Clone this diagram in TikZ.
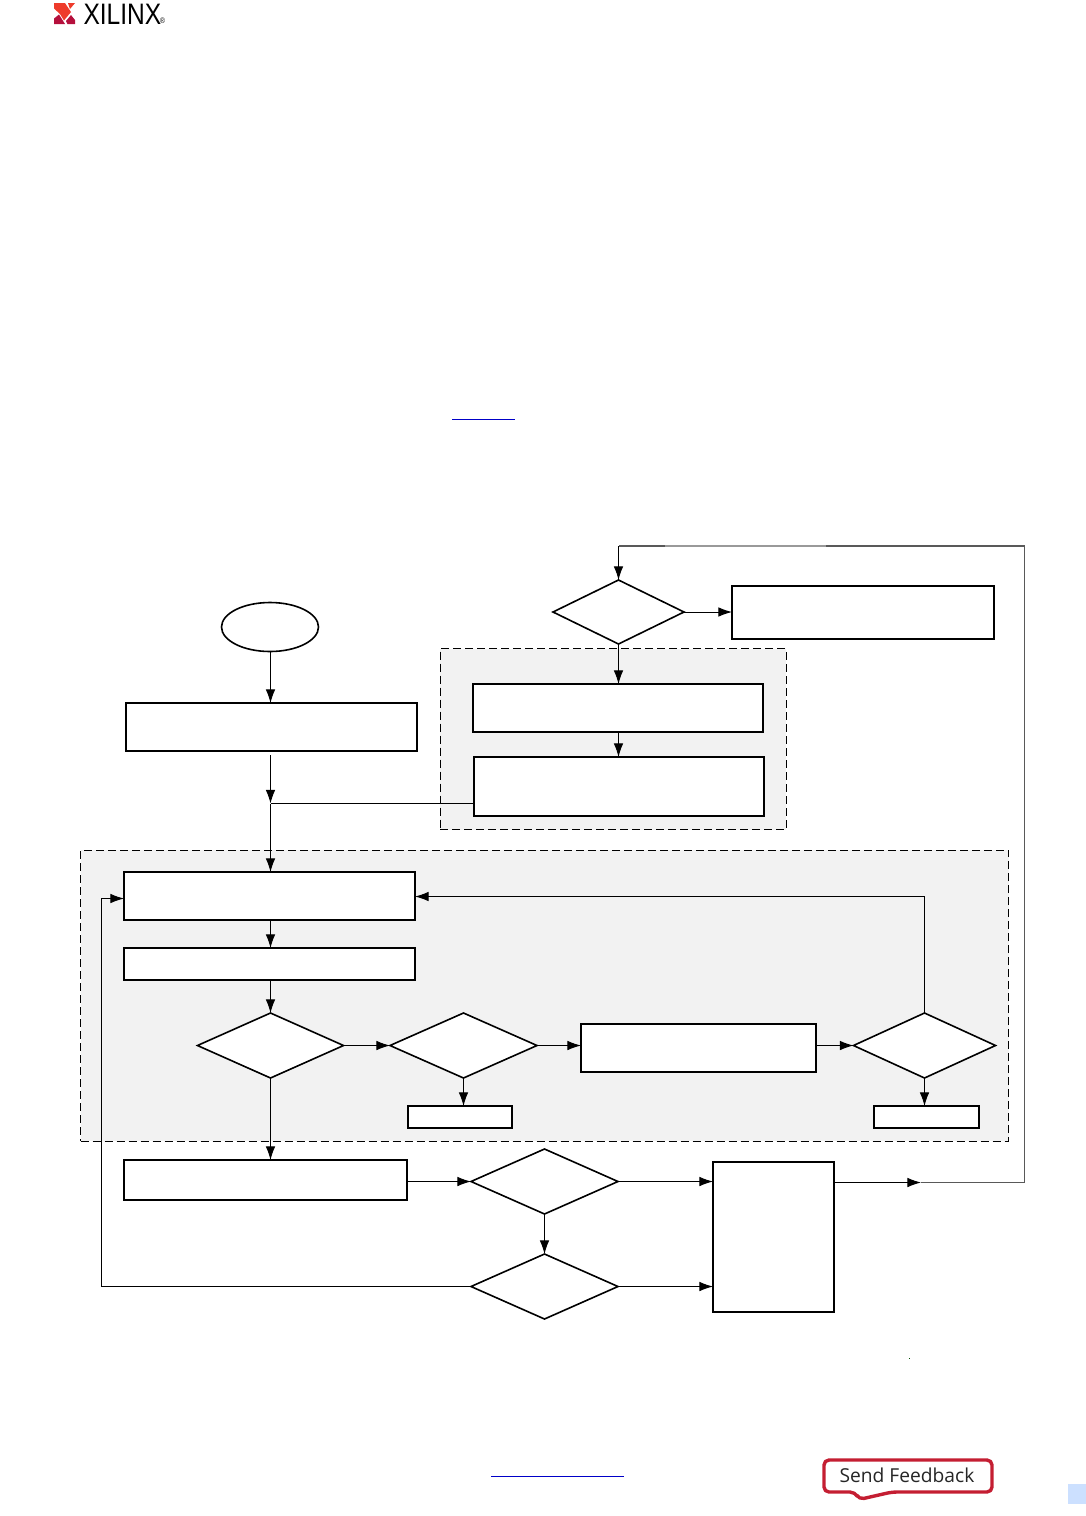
\documentclass[tikz,border=0pt]{standalone}
\usepackage{fontspec}
\usetikzlibrary{arrows.meta,shapes.geometric}
\newfontfamily\logofont[FakeStretch=0.83]{Liberation Sans}
\newfontfamily\tabfont{Open Sans}
\definecolor{groupgray}{HTML}{F2F2F2}
\definecolor{linkblue}{HTML}{0000C8}
\definecolor{tabblue}{HTML}{CCE0FF}
\definecolor{tabred}{HTML}{C41E32}
\definecolor{logoorange}{HTML}{EE3B2B}
\definecolor{logocrimson}{HTML}{B5103C}
\begin{document}
\begin{tikzpicture}[x=0.5pt,y=-0.5pt,line cap=butt,line join=miter,>={Latex[length=6.8pt,width=4.8pt]},
  boxnode/.style 2 args={draw,fill=white,line width=1pt,inner sep=0pt,outer sep=0pt,minimum width=#1*0.5pt,minimum height=#2*0.5pt},
  decision/.style 2 args={draw,fill=white,diamond,line width=0.8pt,inner sep=0pt,outer sep=0pt,aspect=2,minimum width=#1*0.5pt,minimum height=#2*0.5pt},
  groupnode/.style 2 args={draw,fill=groupgray,line width=0.5pt,dash pattern=on 4pt off 2pt,inner sep=0pt,outer sep=0pt,minimum width=#1*0.5pt,minimum height=#2*0.5pt},
  link/.style={line width=0.5pt},
  arrowlink/.style={link,->}]
  \useasboundingbox (0,0) rectangle (1086,1516);
  \node[groupnode={346}{181}] (setupgroup) at (613,739) {};
  \node[groupnode={928}{291}] (loopgroup) at (544.5,995.5) {};
  \node[draw,fill=white,ellipse,line width=0.8pt,inner sep=0pt,outer sep=0pt,minimum width=48.5pt,minimum height=24.5pt] (start) at (270,627) {};
  \node[boxnode={291}{48}] (init) at (271.5,727) {};
  \node[decision={131}{64}] (check) at (618.5,612) {};
  \node[boxnode={262}{53}] (exitbox) at (863,612.5) {};
  \node[boxnode={290}{48}] (setupa) at (618,708) {};
  \node[boxnode={290}{59}] (setupb) at (619,786.5) {};
  \node[boxnode={291}{48}] (loadbox) at (269.5,896) {};
  \node[boxnode={291}{32}] (runbox) at (269.5,964) {};
  \node[decision={146}{65}] (testl) at (270.5,1045.5) {};
  \node[decision={147}{65}] (testm) at (463.5,1045.5) {};
  \node[boxnode={235}{48}] (stepbox) at (698.5,1048) {};
  \node[decision={142}{65}] (testr) at (924.5,1045.5) {};
  \node[boxnode={104}{22}] (stopm) at (460,1117) {};
  \node[boxnode={105}{22}] (stopr) at (926.5,1117) {};
  \node[boxnode={283}{40}] (nextbox) at (265.5,1180) {};
  \node[decision={147}{65}] (testg) at (544.5,1181.5) {};
  \node[decision={147}{65}] (testh) at (544.5,1286.5) {};
  \node[boxnode={121}{150}] (endbox) at (773.5,1237) {};
  \coordinate (initgap) at (270.5,755);
  \coordinate (joinpt) at (270.5,803.5);
  \coordinate (midret) at (921,1182.5);
  \coordinate (cornerse) at (1024.5,1182.5);
  \coordinate (cornerne) at (1024.5,546);
  \coordinate (topa) at (826,546);
  \coordinate (topb) at (665,546);
  \coordinate (cornern) at (618.5,546);
  \coordinate (cornerw) at (101.5,1286.5);
  \coordinate (cornernw) at (101.5,898.5);
  \coordinate (backin) at (415,896.5);
  \draw[arrowlink] (start.south -| joinpt) -- (init.north -| joinpt);
  \draw[arrowlink] (initgap) -- (joinpt);
  \draw[link] (setupb.west |- joinpt) -- (joinpt);
  \draw[arrowlink] (joinpt) -- (loadbox.north -| joinpt);
  \draw[arrowlink] (check.east) -- (exitbox.west |- check);
  \draw[arrowlink] (check.south) -- (check |- setupa.north);
  \draw[arrowlink] (setupa.south -| check) -- (setupb.north -| check);
  \draw[arrowlink] (loadbox.south -| joinpt) -- (runbox.north -| joinpt);
  \draw[arrowlink] (runbox.south -| joinpt) -- (testl.north -| joinpt);
  \draw[arrowlink] (testl.east) -- (testm.west);
  \draw[arrowlink] (testm.east) -- (stepbox.west |- testm);
  \draw[arrowlink] (stepbox.east |- testr) -- (testr.west);
  \draw[arrowlink] (testm.south) -- (testm |- stopm.north);
  \draw[arrowlink] (testr.south) -- (testr |- stopr.north);
  \draw[arrowlink] (testr.north) -- (testr |- backin) -- (backin);
  \draw[arrowlink] (testl.south) -- (testl |- nextbox.north);
  \draw[arrowlink] (nextbox.east |- testg) -- (testg.west);
  \draw[arrowlink] (testg.east) -- (endbox.west |- testg);
  \draw[arrowlink] (testg.south) -- (testh.north);
  \draw[arrowlink] (testh.east) -- (endbox.west |- testh);
  \draw[arrowlink] (testh.west) -- (cornerw) -- (cornernw) -- (loadbox.west |- cornernw);
  \draw[arrowlink] (endbox.east |- midret) -- (midret);
  \draw[link,line width=0.65pt,draw=black!65] (midret) -- (cornerse) -- (cornerne) -- (topa);
  \draw[link,line width=0.65pt,draw=black!40] (topa) -- (topb);
  \draw[link,line width=0.65pt,draw=black!65] (topb) -- (cornern);
  \draw[arrowlink] (cornern) -- (check.north);
  \fill[linkblue] (452,418.6) rectangle (515,419.7);
  \fill[linkblue] (491,1475.6) rectangle (624,1476.7);
  \fill[tabblue] (1068,1484) rectangle (1086,1504);
  \fill[black!70!green] (908.8,1357.8) rectangle (909.8,1358.8);
  \fill[logoorange] (54,3) -- (65,3) -- (71,12) -- (64,20.5) -- (60,14) -- (54,8.5) -- cycle;
  \fill[logoorange] (68,3) -- (75,3) -- (70,9) -- cycle;
  \fill[logocrimson] (54,24) -- (54,18.5) -- (59,14.5) -- (65,24) -- cycle;
  \fill[logocrimson] (71,15) -- (75,20) -- (75,24) -- (67.5,24) -- (66,21) -- cycle;
  \node[inner sep=0pt,outer sep=0pt,font=\logofont\fontsize{14.8pt}{14.8pt}\selectfont,anchor=base west] (logotext) at (83.5,24) {XILINX};
  \node[inner sep=0pt,outer sep=0pt,font=\logofont\fontsize{4pt}{4pt}\selectfont,anchor=base west] (logomark) at (160,23) {®};
  \draw[tabred,line width=1.7pt,line join=round,fill=white,rounded corners=2.5pt] (824,1460) -- (992,1460) -- (992,1492) -- (892,1492) -- (859,1499.5) -- (855,1492) -- (824,1492) -- cycle;
  \node[inner sep=0pt,outer sep=0pt,font=\tabfont\fontsize{9.6pt}{9.6pt}\selectfont,text=black!85,anchor=base] (sendtext) at (907,1482) {Send Feedback};
\end{tikzpicture}
\end{document}
